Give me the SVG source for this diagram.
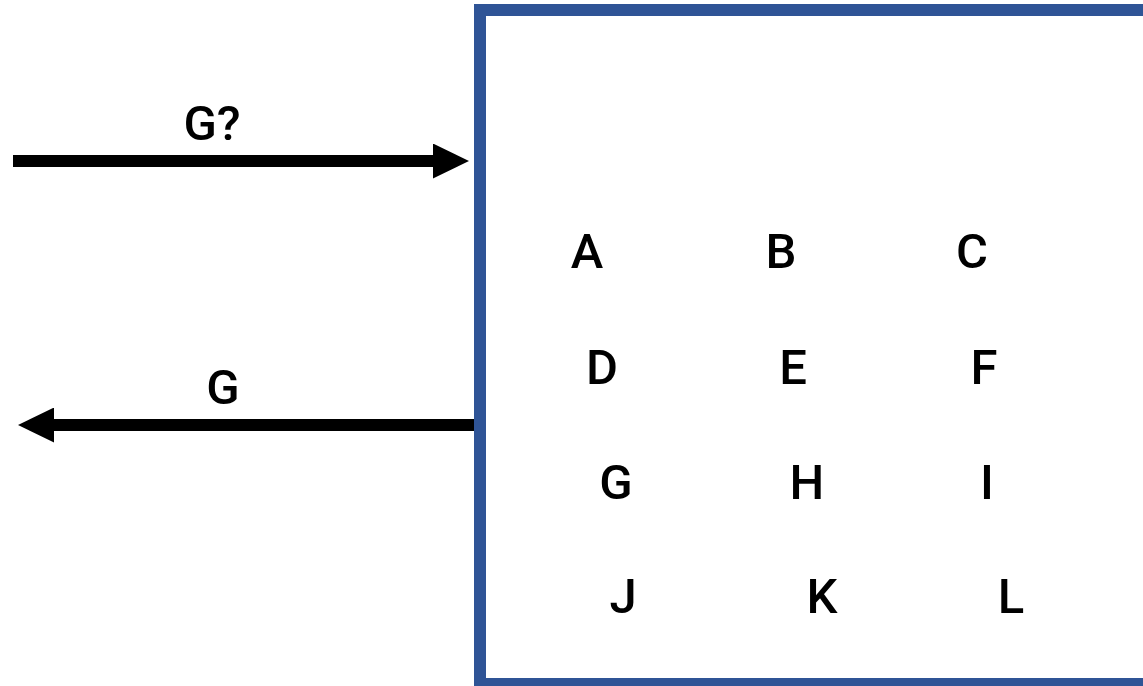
<svg xmlns="http://www.w3.org/2000/svg" width="1143" height="686" viewBox="0 0 1143 686">
  <style>
    .lbl { font-family: Roboto, "Liberation Sans", Arial, sans-serif; font-weight: 500; font-size: 49px; fill: #000; text-anchor: middle; }
    .conn { stroke: #000; stroke-width: 12; fill: none; }
    .box { fill: #fff; stroke: #2F5496; stroke-width: 12; }
  </style>
  <defs>
    <marker id="head" markerUnits="userSpaceOnUse" markerWidth="36" markerHeight="35" refX="0" refY="17.5" orient="auto">
      <path d="M0,0 L36,17.5 L0,35 Z" fill="#000"/>
    </marker>
  </defs>
  <rect width="1143" height="686" fill="#fff"/>
  <g id="box">
    <rect class="box" x="480" y="10" width="700" height="674"/>
    <text class="lbl" x="587" y="268">A</text>
    <text class="lbl" x="781" y="268">B</text>
    <text class="lbl" x="972" y="268">C</text>
    <text class="lbl" x="602" y="384">D</text>
    <text class="lbl" x="793" y="384">E</text>
    <text class="lbl" x="984" y="384">F</text>
    <text class="lbl" x="616" y="499">G</text>
    <text class="lbl" x="807" y="499">H</text>
    <text class="lbl" x="987" y="499">I</text>
    <text class="lbl" x="623" y="613">J</text>
    <text class="lbl" x="822" y="613">K</text>
    <text class="lbl" x="1011" y="613">L</text>
  </g>
  <g id="connectors">
    <line class="conn" x1="13" y1="161" x2="433" y2="161" marker-end="url(#head)"/>
    <text class="lbl" x="212" y="140">G?</text>
    <line class="conn" x1="474" y1="425" x2="54" y2="425" marker-end="url(#head)"/>
    <text class="lbl" x="223" y="404">G</text>
  </g>
</svg>
